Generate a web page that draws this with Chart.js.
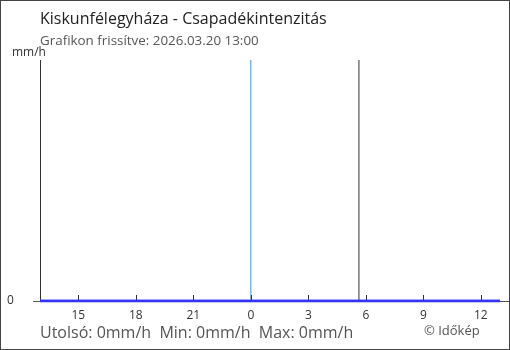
<!DOCTYPE html>
<html><head><meta charset="utf-8">
<script src="https://cdn.jsdelivr.net/npm/chart.js@4/dist/chart.umd.min.js"></script>
<style>
html,body{margin:0;padding:0;background:#fff;}
#wrap{position:relative;width:510px;height:350px;box-sizing:border-box;border:1px solid #444;}
canvas{position:absolute;left:-1px;top:-1px;}
</style></head>
<body><div id="wrap"><canvas id="c" width="510" height="350"></canvas></div>
<script>
const titleText = "Kiskunfélegyháza - Csapadékintenzitás";
const subtitleText = "Grafikon frissítve: 2026.03.20 13:00";
const unitLabel = "mm/h";
const footerText = "Utolsó: 0mm/h  Min: 0mm/h  Max: 0mm/h";
const creditText = "© Időkép";
// hours since start of day 1 (13:00 .. next day 13:00)
const hours = [13,14,15,16,17,18,19,20,21,22,23,24,25,26,27,28,29,30,31,32,33,34,35,36,37];
const intensity = [0,0,0,0,0,0,0,0,0,0,0,0,0,0,0,0,0,0,0,0,0,0,0,0,0];
const xTicks = [15,18,21,24,27,30,33,36];
const yTicks = [0];
const midnightHour = 24;
const markerHour = 29.64;
const yMax = 1;

const FONT = "'Open Sans', 'Noto Sans', sans-serif";

const decor = {
  id: 'decor',
  afterDraw(chart) {
    const ctx = chart.ctx, xs = chart.scales.x, ys = chart.scales.y;
    const y0 = ys.getPixelForValue(0);
    ctx.save();
    // x axis baseline
    ctx.strokeStyle = '#555'; ctx.lineWidth = 1;
    ctx.beginPath(); ctx.moveTo(33, Math.round(y0)+0.5); ctx.lineTo(510, Math.round(y0)+0.5); ctx.stroke();
    // inward x ticks
    ctx.strokeStyle = '#333';
    xTicks.forEach(v => {
      const px = Math.round(xs.getPixelForValue(v)) + 0.5;
      ctx.beginPath(); ctx.moveTo(px, y0 - 6); ctx.lineTo(px, y0 + 1); ctx.stroke();
    });
    ctx.restore();
    // redraw data line on top
    ctx.save();
    ctx.strokeStyle = '#3333ff'; ctx.lineWidth = 2.5;
    ctx.beginPath();
    hours.forEach((h, i) => {
      const px = xs.getPixelForValue(h), py = ys.getPixelForValue(intensity[i]);
      if (i === 0) ctx.moveTo(px, py); else ctx.lineTo(px, py);
    });
    ctx.stroke();
    ctx.restore();
    // texts
    ctx.save();
    ctx.textBaseline = 'alphabetic';
    ctx.fillStyle = '#222'; ctx.font = "16px " + FONT;
    ctx.fillText(titleText, 40, 24);
    ctx.fillStyle = '#555'; ctx.font = "13.4px " + FONT;
    ctx.fillText(subtitleText, 40, 45);
    ctx.fillStyle = '#333'; ctx.font = "12px " + FONT;
    ctx.fillText(unitLabel, 12, 56);
    ctx.fillStyle = '#555'; ctx.font = "16px " + FONT;
    ctx.fillText(footerText, 40, 338);
    ctx.font = "13px " + FONT;
    ctx.fillText(creditText, 424, 335);
    ctx.restore();
  }
};

new Chart(document.getElementById('c'), {
  type: 'line',
  data: {
    datasets: [
      { label: 'midnight', data: [{x: midnightHour, y: 0}, {x: midnightHour, y: yMax}], borderColor: '#3399dd', borderWidth: 1, pointRadius: 0 },
      { label: 'marker', data: [{x: markerHour, y: 0}, {x: markerHour, y: yMax}], borderColor: '#333', borderWidth: 1, pointRadius: 0 },
      { label: 'Csapadékintenzitás', data: hours.map((h, i) => ({x: h, y: intensity[i]})), borderColor: '#3333ff', borderWidth: 2.5, pointRadius: 0, tension: 0 }
    ]
  },
  options: {
    responsive: false, animation: false,
    devicePixelRatio: 1,
    layout: { padding: { top: 60, right: 10, left: 7, bottom: 0 } },
    plugins: { legend: { display: false }, tooltip: { enabled: false }, title: { display: false } },
    scales: {
      x: {
        type: 'linear', min: 13, max: 37,
        afterBuildTicks: s => { s.ticks = xTicks.map(v => ({ value: v })); },
        afterFit: s => { s.height = 49; },
        grid: { display: false, drawTicks: false },
        border: { display: false },
        ticks: { padding: 7, color: '#333', font: { family: FONT, size: 12 }, maxRotation: 0, autoSkip: false,
          callback: v => String(v % 24) }
      },
      y: {
        min: 0, max: yMax,
        afterBuildTicks: s => { s.ticks = yTicks.map(v => ({ value: v })); },
        afterFit: s => { s.width = 33; },
        grid: { drawOnChartArea: false, drawTicks: true, tickLength: 5, color: '#333' },
        border: { display: true, color: '#333', width: 1 },
        ticks: { crossAlign: 'far', padding: 3, color: '#333', font: { family: FONT, size: 12 } }
      }
    }
  },
  plugins: [decor]
});
</script>
</body></html>
